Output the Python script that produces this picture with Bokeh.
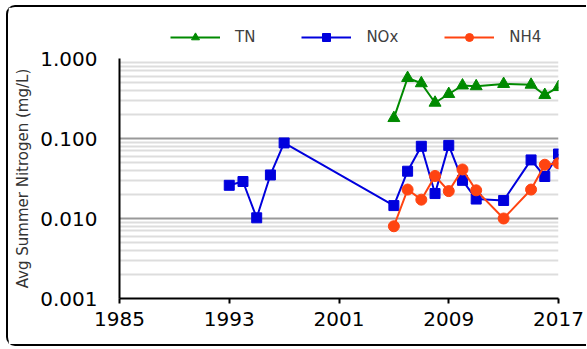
from bokeh.plotting import figure
from bokeh.layouts import column
from bokeh.models import FixedTicker, NumeralTickFormatter, Legend, LegendItem
from bokeh.embed import file_html
from bokeh.resources import INLINE

years_tn = [2005, 2006, 2007, 2008, 2009, 2010, 2011, 2013, 2015, 2016, 2017]
tn = [0.18, 0.57, 0.49, 0.28, 0.36, 0.46, 0.45, 0.48, 0.47, 0.35, 0.44]

years_nox = [1993, 1994, 1995, 1996, 1997, 2005, 2006, 2007, 2008, 2009, 2010, 2011, 2013, 2015, 2016, 2017]
nox = [0.026, 0.029, 0.0102, 0.035, 0.088, 0.0145, 0.039, 0.080, 0.0205, 0.082, 0.030, 0.0175, 0.0168, 0.054, 0.0335, 0.064]

years_nh4 = [2005, 2006, 2007, 2008, 2009, 2010, 2011, 2013, 2015, 2016, 2017]
nh4 = [0.0080, 0.023, 0.0172, 0.034, 0.022, 0.041, 0.0225, 0.0100, 0.023, 0.047, 0.049]

series_names = ["TN", "NOx", "NH4"]
x_ticks = [1985, 1993, 2001, 2009, 2017]
y_ticks = [0.001, 0.01, 0.1, 1.0]
y_minor = [m * d for d in (0.001, 0.01, 0.1) for m in range(2, 10)]

green = "#008a00"
blue = "#0000dd"
red = "#ff4411"

# ---- legend strip (separate small figure above the chart) ----
lf = figure(width=578, height=40, output_backend="svg", toolbar_location=None,
            x_axis_location=None, y_axis_location=None, x_range=(0, 1), y_range=(0, 1),
            min_border_left=0, min_border_right=0, min_border_top=0, min_border_bottom=0)
lf.outline_line_color = None
lf.grid.visible = False
hx = [-5, -4]
hy = [-5, -4]
d1 = [lf.line(hx, hy, line_color=green, line_width=2),
      lf.scatter(hx, hy, marker="triangle", size=12, color=green)]
d2 = [lf.line(hx, hy, line_color=blue, line_width=2),
      lf.scatter(hx, hy, marker="square", size=10, color=blue)]
d3 = [lf.line(hx, hy, line_color=red, line_width=2),
      lf.scatter(hx, hy, marker="circle", size=11, color=red)]
legend = Legend(items=[LegendItem(label=series_names[0], renderers=d1),
                       LegendItem(label=series_names[1], renderers=d2),
                       LegendItem(label=series_names[2], renderers=d3)],
                orientation="horizontal", location=(51, 0),
                padding=0, margin=0, spacing=46, glyph_width=50, glyph_height=20,
                label_standoff=15, label_text_font="DejaVu Sans",
                label_text_font_size="15px", label_text_color="#404040",
                border_line_color=None, background_fill_alpha=0)
lf.add_layout(legend)

# ---- main chart ----
p = figure(width=578, height=297, output_backend="svg", toolbar_location=None,
           y_axis_type="log", x_range=(1985, 2017), y_range=(0.001, 1.0),
           min_border_left=111, min_border_right=28, min_border_top=11, min_border_bottom=46)
p.outline_line_color = None
p.background_fill_color = "white"

p.xgrid.grid_line_color = None
p.ygrid.ticker = FixedTicker(ticks=y_ticks, minor_ticks=y_minor)
p.ygrid.grid_line_color = "#999999"
p.ygrid.grid_line_width = 2
p.ygrid.minor_grid_line_color = "#dddddd"
p.ygrid.minor_grid_line_width = 2

p.xaxis.ticker = FixedTicker(ticks=x_ticks)
p.yaxis.ticker = FixedTicker(ticks=y_ticks, minor_ticks=y_minor)
p.yaxis.formatter = NumeralTickFormatter(format="0.000")
p.xaxis.formatter = NumeralTickFormatter(format="0")

for ax in (p.xaxis[0], p.yaxis[0]):
    ax.axis_line_color = "black"
    ax.axis_line_width = 2
    ax.major_label_text_font = "DejaVu Sans"
    ax.major_label_text_font_size = "20px"
    ax.major_label_text_color = "black"
    ax.minor_tick_line_color = None

p.xaxis.major_tick_line_color = "black"
p.xaxis.major_tick_line_width = 2
p.xaxis.major_tick_out = 5
p.xaxis.major_tick_in = 0
p.xaxis.major_label_standoff = 8

p.yaxis.major_tick_line_color = None
p.yaxis.major_label_standoff = 16
p.yaxis.axis_label = "Avg Summer Nitrogen (mg/L)"
p.yaxis.axis_label_text_font = "DejaVu Sans"
p.yaxis.axis_label_text_font_style = "normal"
p.yaxis.axis_label_text_font_size = "15px"
p.yaxis.axis_label_text_color = "#333333"
p.yaxis.axis_label_standoff = 5

p.line(years_tn, tn, line_color=green, line_width=2)
p.scatter(years_tn, tn, marker="triangle", size=12, color=green)
p.line(years_nox, nox, line_color=blue, line_width=2)
p.scatter(years_nox, nox, marker="square", size=10, color=blue)
p.line(years_nh4, nh4, line_color=red, line_width=2)
p.scatter(years_nh4, nh4, marker="circle", size=11, color=red)

layout = column(lf, p, spacing=0, margin=(5, 0, 0, 6),
                styles={"border-left": "2px solid black", "border-top": "2px solid black",
                        "border-bottom": "2px solid black",
                        "border-radius": "9px 0 0 9px"})

open("out.html", "w").write(file_html(layout, INLINE))
